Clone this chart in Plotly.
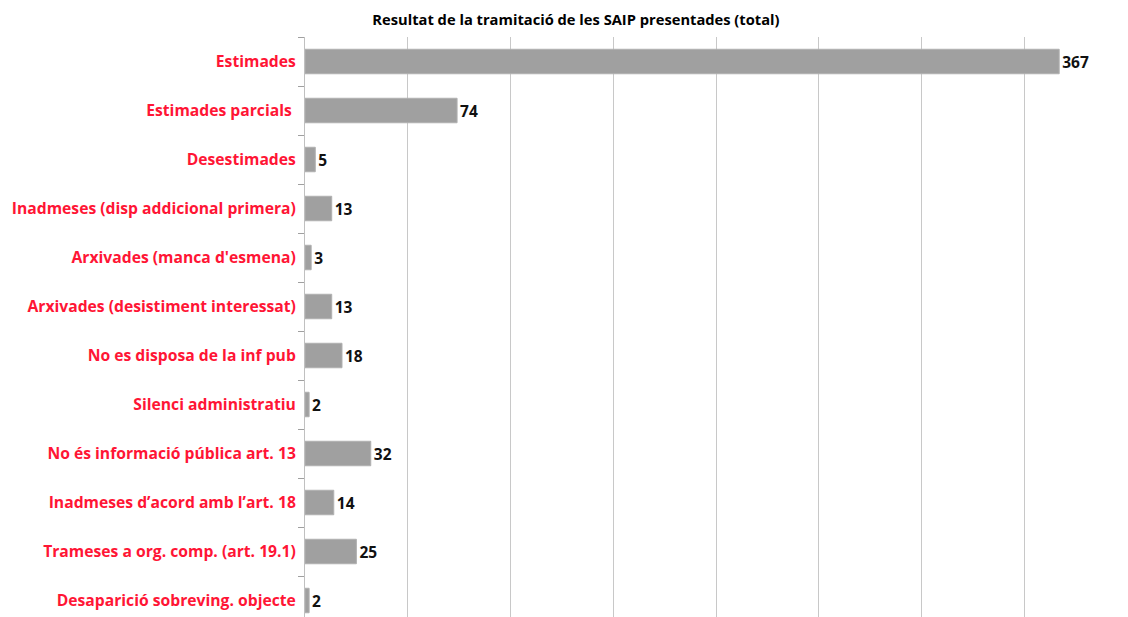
import plotly.graph_objects as go

categories = [
    "Estimades",
    "Estimades parcials ",
    "Desestimades",
    "Inadmeses (disp addicional primera)",
    "Arxivades (manca d'esmena)",
    "Arxivades (desistiment interessat)",
    "No es disposa de la inf pub",
    "Silenci administratiu",
    "No és informació pública art. 13",
    "Inadmeses d’acord amb l’art. 18",
    "Trameses a org. comp. (art. 19.1)",
    "Desaparició sobreving. objecte",
]
values = [367, 74, 5, 13, 3, 13, 18, 2, 32, 14, 25, 2]
title_text = "Resultat de la tramitació de les SAIP presentades (total)"

FONT = "Open Sans"

fig = go.Figure(
    go.Bar(
        x=values,
        y=categories,
        orientation="h",
        width=0.5,
        marker=dict(color="#A0A0A0", line=dict(color="#B0B0B0", width=1)),
        text=[str(v) for v in values],
        textposition="outside",
        textfont=dict(family=FONT, size=15.5, color="#111111", weight="bold"),
        cliponaxis=False,
    )
)

# page body has an 8px default margin; compensate in the figure margins
fig.update_layout(
    width=1128,
    height=617,
    margin=dict(l=297, r=9, t=29, b=0),
    paper_bgcolor="white",
    plot_bgcolor="white",
    showlegend=False,
    title=dict(
        text=title_text,
        x=0.5035,
        xanchor="center",
        y=0.9806,
        yanchor="middle",
        font=dict(family=FONT, size=14.7, color="#000000", weight="bold"),
    ),
    xaxis=dict(
        range=[0, 400],
        dtick=50,
        showgrid=True,
        gridcolor="#C8C8C8",
        gridwidth=1,
        showticklabels=False,
        zeroline=False,
        showline=False,
        fixedrange=True,
    ),
    yaxis=dict(
        type="category",
        range=[11.5, -0.5],
        showline=True,
        linecolor="#C0C0C0",
        linewidth=1,
        ticks="outside",
        tickson="boundaries",
        ticklen=6,
        tickcolor="#A0A0A0",
        tickfont=dict(family=FONT, size=15.7, color="#FF1535", weight="bold"),
        ticklabelstandoff=5,
        showgrid=False,
    ),
)

fig.write_html("out.html")
